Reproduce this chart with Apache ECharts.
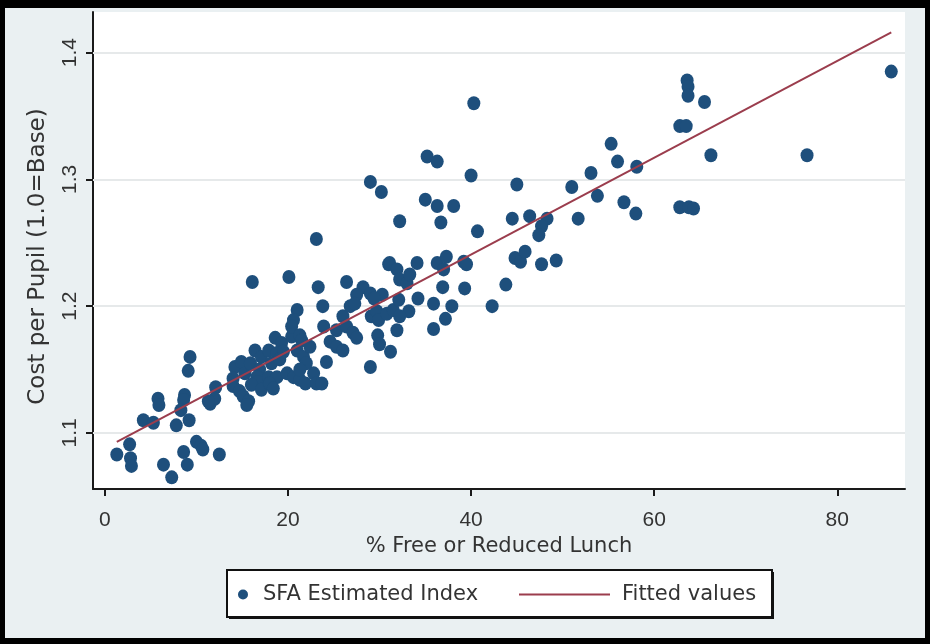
<!DOCTYPE html>
<html>
<head>
<meta charset="utf-8">
<script src="https://cdn.jsdelivr.net/npm/echarts@6/dist/echarts.min.js"></script>
<style>
  html, body { margin: 0; padding: 0; background: #eaf0f2; }
  #chart { width: 930px; height: 644px; }
</style>
</head>
<body>
<div id="chart"></div>
<script>
// % of pupils eligible for free or reduced lunch, per district
const pctLunch = [
  1.3, 2.7, 2.8, 2.9, 4.2, 5.3, 5.8, 5.9, 6.4, 7.3, 7.8, 8.6, 9.0, 9.3, 9.1, 8.7, 8.6, 8.3, 9.2, 10.0,
  10.5, 10.7, 12.5, 11.5, 12.1, 12.0, 11.3,
  14.2, 14.9, 15.3, 14.0, 14.0, 14.7, 15.1, 15.7, 15.5, 16.4, 17.1, 15.9, 16.9, 16.6, 16.7, 16.0, 17.1, 16.1,
  17.9, 18.6, 19.3, 18.8, 19.5, 20.4, 18.2, 19.1, 17.9, 18.8, 18.0, 18.4, 19.9, 20.6, 21.3, 21.9, 22.8, 23.1, 23.7,
  20.1, 23.3, 26.4, 31.0, 23.8, 28.2, 27.5, 29.0, 30.3, 29.4, 21.0, 20.6, 20.4, 23.9, 26.0, 25.3, 26.4, 27.1, 27.5,
  29.1, 29.7, 29.9, 30.8, 31.5, 29.8, 30.0, 29.0, 31.2, 24.6, 25.3, 26.0, 24.2, 21.3, 21.5, 21.0, 21.7, 22.0, 21.3, 22.4,
  40.3, 35.2, 36.3, 40.0, 29.0, 30.2, 35.0, 36.3, 38.1, 32.2, 36.7, 40.7, 23.1, 31.1, 31.9, 34.1, 36.3, 37.3, 37.0,
  39.2, 39.5, 32.2, 33.0, 33.3, 34.2, 36.9, 39.3, 32.1, 35.9, 37.9, 37.2, 35.9, 26.8, 27.3, 33.2, 32.2, 31.9, 42.3, 43.8,
  45.0, 44.5, 46.4, 48.3, 47.7, 47.4, 44.8, 45.4, 45.9, 47.7, 49.3, 51.0, 51.7, 53.1, 53.8, 55.3, 56.0, 58.1, 56.7, 58.0,
  63.6, 63.7, 63.7, 65.5, 62.8, 63.5, 66.2, 76.7, 85.9, 62.8, 63.8, 64.3
];
// SFA estimated cost index (1.0 = base cost per pupil)
const costIndex = [
  1.083, 1.091, 1.080, 1.074, 1.110, 1.108, 1.127, 1.122, 1.075, 1.065, 1.106, 1.085, 1.075, 1.160, 1.149, 1.130, 1.126, 1.118, 1.110, 1.093,
  1.090, 1.087, 1.083, 1.123, 1.136, 1.127, 1.125,
  1.152, 1.156, 1.147, 1.143, 1.137, 1.133, 1.129, 1.125, 1.122, 1.165, 1.160, 1.155, 1.150, 1.144, 1.140, 1.138, 1.134, 1.219,
  1.165, 1.175, 1.171, 1.163, 1.164, 1.176, 1.155, 1.158, 1.144, 1.144, 1.139, 1.135, 1.147, 1.144, 1.142, 1.139, 1.147, 1.139, 1.139,
  1.223, 1.215, 1.219, 1.233, 1.200, 1.215, 1.209, 1.210, 1.209, 1.206, 1.197, 1.189, 1.184, 1.184, 1.192, 1.181, 1.184, 1.179, 1.175,
  1.192, 1.196, 1.189, 1.194, 1.197, 1.177, 1.170, 1.152, 1.164, 1.172, 1.168, 1.165, 1.156, 1.177, 1.173, 1.165, 1.160, 1.155, 1.150, 1.168,
  1.360, 1.318, 1.314, 1.303, 1.298, 1.290, 1.284, 1.279, 1.279, 1.267, 1.266, 1.259, 1.253, 1.234, 1.229, 1.234, 1.234, 1.239, 1.229,
  1.235, 1.233, 1.221, 1.218, 1.225, 1.206, 1.215, 1.214, 1.205, 1.202, 1.200, 1.190, 1.182, 1.200, 1.202, 1.196, 1.192, 1.181, 1.200, 1.217,
  1.296, 1.269, 1.271, 1.269, 1.263, 1.256, 1.238, 1.235, 1.243, 1.233, 1.236, 1.294, 1.269, 1.305, 1.287, 1.328, 1.314, 1.310, 1.282, 1.273,
  1.378, 1.373, 1.366, 1.361, 1.342, 1.342, 1.319, 1.319, 1.385, 1.278, 1.278, 1.277
];
// Linear fit endpoints
const fitX = [1.3, 85.9];
const fitY = [1.093, 1.416];
// Axis ticks
const xTicks = [0, 20, 40, 60, 80];
const yTicks = [1.1, 1.2, 1.3, 1.4];

const TICK_FONT = '"Liberation Sans", Arial, Helvetica, sans-serif';
const TITLE_FONT = '"DejaVu Sans", Verdana, sans-serif';
const TEXT = '#333333';
const AXIS = '#1a1a1a';
const DOT = '#1e4f7c';
const FIT = '#9b3d4d';

const points = pctLunch.map((x, i) => [x, costIndex[i]]);
const fitLine = fitX.map((x, i) => [x, fitY[i]]);

const chart = echarts.init(document.getElementById('chart'), null, { renderer: 'canvas' });
chart.setOption({
  backgroundColor: '#eaf0f2',
  animation: false,
  grid: { left: 93, right: 25, top: 12, bottom: 155, show: true, backgroundColor: '#ffffff', borderWidth: 0 },
  xAxis: {
    type: 'value', min: -1.3, max: 87.4,
    name: '% Free or Reduced Lunch', nameLocation: 'middle', nameGap: 40,
    nameTextStyle: { fontFamily: TITLE_FONT, fontSize: 21, color: TEXT },
    axisLine: { show: true, onZero: false, lineStyle: { color: AXIS, width: 2 } },
    axisTick: { show: true, customValues: xTicks, length: 7, lineStyle: { color: AXIS, width: 2 } },
    axisLabel: { customValues: xTicks, fontFamily: TICK_FONT, fontSize: 21, color: TEXT, margin: 21 },
    splitLine: { show: false }
  },
  yAxis: {
    type: 'value', min: 1.0558, max: 1.432,
    name: 'Cost per Pupil (1.0=Base)', nameLocation: 'middle', nameRotate: 90, nameGap: 43,
    nameTextStyle: { fontFamily: TITLE_FONT, fontSize: 23, color: TEXT, padding: [0, 12, 0, 0] },
    axisLine: { show: true, onZero: false, lineStyle: { color: AXIS, width: 2 } },
    axisTick: { show: true, customValues: yTicks, length: 7, lineStyle: { color: AXIS, width: 2 } },
    axisLabel: { customValues: yTicks, rotate: 90, fontFamily: TICK_FONT, fontSize: 21, color: TEXT, margin: 12,
      formatter: v => Number(v).toFixed(1) },
    splitLine: { show: false }
  },
  legend: [
    { data: ['SFA Estimated Index'], left: 238, top: 584, padding: 0, itemWidth: 10, itemHeight: 10,
      icon: 'circle', selectedMode: false,
      textStyle: { fontFamily: TITLE_FONT, fontSize: 21, color: TEXT, padding: [0, 0, 0, 10] } },
    { data: ['Fitted values'], left: 519, top: 584, padding: 0, itemWidth: 91, itemHeight: 2,
      icon: 'rect', selectedMode: false,
      textStyle: { fontFamily: TITLE_FONT, fontSize: 21, color: TEXT, padding: [0, 0, 0, 7] } }
  ],
  graphic: [
    // legend frame with offset shadow
    { type: 'rect', z: 1, shape: { x: 229, y: 572, width: 545, height: 47 }, style: { fill: '#111' } },
    { type: 'rect', z: 1, shape: { x: 227, y: 570, width: 545, height: 47 },
      style: { fill: '#ffffff', stroke: '#111', lineWidth: 2 } },
    // outer frame
    { type: 'rect', z: 100, shape: { x: 0, y: 0, width: 930, height: 8 }, style: { fill: '#000' } },
    { type: 'rect', z: 100, shape: { x: 0, y: 0, width: 5, height: 644 }, style: { fill: '#000' } },
    { type: 'rect', z: 100, shape: { x: 925, y: 0, width: 5, height: 644 }, style: { fill: '#000' } },
    { type: 'rect', z: 100, shape: { x: 0, y: 638, width: 930, height: 6 }, style: { fill: '#000' } }
  ],
  series: [
    {
      name: 'SFA Estimated Index', type: 'scatter', data: points, z: 2,
      symbol: 'circle', symbolSize: [13, 14], itemStyle: { color: DOT, opacity: 1 },
      markLine: {
        silent: true, z: 1, symbol: ['none', 'none'], label: { show: false },
        lineStyle: { color: '#e6e9ea', width: 2, type: 'solid' },
        emphasis: { disabled: true },
        data: yTicks.map(v => ({ yAxis: v }))
      }
    },
    {
      name: 'Fitted values', type: 'line', data: fitLine, z: 3,
      symbol: 'none', showSymbol: false,
      lineStyle: { color: FIT, width: 2 }, itemStyle: { color: FIT }
    }
  ]
});
</script>
</body>
</html>
